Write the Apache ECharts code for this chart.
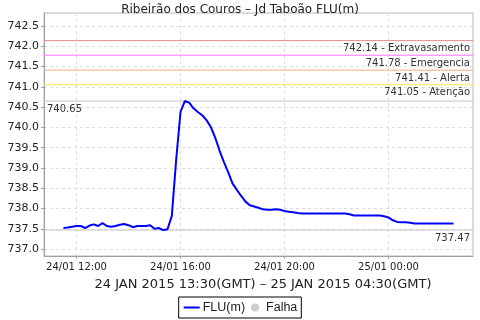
<!DOCTYPE html>
<html>
<head>
<meta charset="utf-8">
<script src="https://cdn.jsdelivr.net/npm/echarts@6/dist/echarts.min.js"></script>
<style>
  html, body { margin: 0; padding: 0; background: #fff; }
  #chart { width: 480px; height: 320px; }
</style>
</head>
<body>
<div id="chart"></div>
<script>
// readings every 10 min, local time (GMT-2)
const times = [
  '2015-01-24 11:30', '2015-01-24 11:40', '2015-01-24 11:50', '2015-01-24 12:00', '2015-01-24 12:10', '2015-01-24 12:20',
  '2015-01-24 12:30', '2015-01-24 12:40', '2015-01-24 12:50', '2015-01-24 13:00', '2015-01-24 13:10', '2015-01-24 13:20',
  '2015-01-24 13:30', '2015-01-24 13:40', '2015-01-24 13:50', '2015-01-24 14:00', '2015-01-24 14:10', '2015-01-24 14:20',
  '2015-01-24 14:30', '2015-01-24 14:40', '2015-01-24 14:50', '2015-01-24 15:00', '2015-01-24 15:10', '2015-01-24 15:20',
  '2015-01-24 15:30', '2015-01-24 15:40', '2015-01-24 15:50', '2015-01-24 16:00', '2015-01-24 16:10', '2015-01-24 16:20',
  '2015-01-24 16:30', '2015-01-24 16:40', '2015-01-24 16:50', '2015-01-24 17:00', '2015-01-24 17:10', '2015-01-24 17:20',
  '2015-01-24 17:30', '2015-01-24 17:40', '2015-01-24 17:50', '2015-01-24 18:00', '2015-01-24 18:10', '2015-01-24 18:20',
  '2015-01-24 18:30', '2015-01-24 18:40', '2015-01-24 18:50', '2015-01-24 19:00', '2015-01-24 19:10', '2015-01-24 19:20',
  '2015-01-24 19:30', '2015-01-24 19:40', '2015-01-24 19:50', '2015-01-24 20:00', '2015-01-24 20:10', '2015-01-24 20:20',
  '2015-01-24 20:30', '2015-01-24 20:40', '2015-01-24 20:50', '2015-01-24 21:00', '2015-01-24 21:10', '2015-01-24 21:20',
  '2015-01-24 21:30', '2015-01-24 21:40', '2015-01-24 21:50', '2015-01-24 22:00', '2015-01-24 22:10', '2015-01-24 22:20',
  '2015-01-24 22:30', '2015-01-24 22:40', '2015-01-24 22:50', '2015-01-24 23:00', '2015-01-24 23:10', '2015-01-24 23:20',
  '2015-01-24 23:30', '2015-01-24 23:40', '2015-01-24 23:50', '2015-01-25 00:00', '2015-01-25 00:10', '2015-01-25 00:20',
  '2015-01-25 00:30', '2015-01-25 00:40', '2015-01-25 00:50', '2015-01-25 01:00', '2015-01-25 01:10', '2015-01-25 01:20',
  '2015-01-25 01:30', '2015-01-25 01:40', '2015-01-25 01:50', '2015-01-25 02:00', '2015-01-25 02:10', '2015-01-25 02:20',
  '2015-01-25 02:30'
];
const flu = [
  737.52, 737.53, 737.55, 737.57, 737.57, 737.52,
  737.58, 737.61, 737.57, 737.64, 737.57, 737.55,
  737.57, 737.60, 737.62, 737.59, 737.54, 737.57,
  737.57, 737.57, 737.59, 737.50, 737.52, 737.47,
  737.49, 737.82, 739.20, 740.38, 740.65, 740.61,
  740.47, 740.38, 740.30, 740.18, 740.01, 739.75,
  739.43, 739.15, 738.90, 738.62, 738.46, 738.31,
  738.17, 738.08, 738.05, 738.02, 737.98, 737.97,
  737.97, 737.98, 737.97, 737.94, 737.92, 737.91,
  737.89, 737.88, 737.88, 737.88, 737.88, 737.88,
  737.88, 737.88, 737.88, 737.88, 737.88, 737.88,
  737.86, 737.83, 737.83, 737.83, 737.83, 737.83,
  737.83, 737.83, 737.81, 737.78, 737.71, 737.67,
  737.66, 737.66, 737.65, 737.63, 737.63, 737.63,
  737.63, 737.63, 737.63, 737.63, 737.63, 737.63,
  737.63
];
const yTicks = [737.0, 737.5, 738.0, 738.5, 739.0, 739.5, 740.0, 740.5, 741.0, 741.5, 742.0, 742.5];
const levels = [742.14, 741.78, 741.41, 741.05];
const levelNames = ['Extravasamento', 'Emergencia', 'Alerta', 'Atenção'];
const levelColors = ['#ec8a8a', '#ff70ff', '#f0b080', '#ffe050'];
const maxVal = 740.65;
const minVal = 737.47;
const xStart = '2015-01-24 10:45';
const xEnd = '2015-01-25 03:15';

const pad = (n) => (n < 10 ? '0' : '') + n;
const toMs = (s) => new Date(s.replace(' ', 'T') + ':00').getTime();

const chart = echarts.init(document.getElementById('chart'));

// reference levels: line drawn by a plain 2-point series, text by markLine label
const refs = levels.map((v, i) => ({
  value: v, color: levelColors[i], text: v.toFixed(2) + ' - ' + levelNames[i], pos: 'insideEndBottom'
}));
refs.push({ value: maxVal, color: '#c4c4c4', text: maxVal.toFixed(2), pos: 'insideStartBottom' });
refs.push({ value: minVal, color: '#c4c4c4', text: minVal.toFixed(2), pos: 'insideEndBottom' });

const refSeries = refs.map((r, i) => ({
  name: 'ref' + i,
  type: 'line',
  silent: true,
  symbol: 'none',
  z: 1,
  data: [[toMs(xStart), r.value], [toMs(xEnd), r.value]],
  lineStyle: { color: r.color, width: 1 },
  itemStyle: { color: r.color }
}));

const marks = refs.map((r) => ({
  yAxis: r.value,
  lineStyle: { color: 'rgba(0,0,0,0)', width: 1 },
  label: { formatter: r.text, position: r.pos, color: '#333', opacity: 1 }
}));

chart.setOption({
  animation: false,
  title: [
    {
      text: 'Ribeirão dos Couros – Jd Taboão FLU(m)',
      left: 'center', top: -1,
      textStyle: { fontFamily: 'DejaVu Sans', fontSize: 12, fontWeight: 'normal', color: '#222' }
    },
    {
      text: '24 JAN 2015 13:30(GMT) – 25 JAN 2015 04:30(GMT)',
      left: 258, top: 273, textAlign: 'center',
      textStyle: { fontFamily: 'DejaVu Sans', fontSize: 13, fontWeight: 'normal', color: '#222' }
    }
  ],
  grid: {
    left: 44, right: 7, top: 13, bottom: 64,
    show: true, borderColor: '#b8b8b8', borderWidth: 1
  },
  legend: {
    bottom: 2, left: 'center',
    borderColor: '#000', borderWidth: 1, padding: [4, 4], itemGap: 6,
    itemWidth: 16, itemHeight: 8,
    textStyle: { fontFamily: 'Liberation Sans', fontSize: 12.5, color: '#222', padding: [0, 0, 0, -2] },
    data: [
      { name: 'FLU(m)', itemStyle: { opacity: 0 } },
      { name: 'Falha', icon: 'circle', itemStyle: { color: '#c0c0c0' } }
    ]
  },
  xAxis: {
    type: 'time',
    min: toMs(xStart),
    max: toMs(xEnd),
    minInterval: 4 * 3600 * 1000,
    maxInterval: 4 * 3600 * 1000,
    axisLine: { lineStyle: { color: '#a0a0a0' } },
    axisTick: { show: true, length: 3, lineStyle: { color: '#a0a0a0' } },
    axisLabel: {
      fontFamily: 'DejaVu Sans', fontSize: 10, color: '#222', margin: 6,
      formatter: (v) => {
        const d = new Date(v);
        return pad(d.getDate()) + '/' + pad(d.getMonth() + 1) + ' ' + pad(d.getHours()) + ':' + pad(d.getMinutes());
      }
    },
    splitLine: { show: true, lineStyle: { color: '#dcdcdc', type: [3, 3] } }
  },
  yAxis: {
    type: 'value',
    min: 736.83, max: 742.82,
    axisLine: { show: true, lineStyle: { color: '#a0a0a0' } },
    axisTick: { show: true, length: 3, customValues: yTicks, lineStyle: { color: '#a0a0a0' } },
    axisLabel: {
      fontFamily: 'DejaVu Sans', fontSize: 11, color: '#222', margin: 5,
      customValues: yTicks,
      formatter: (v) => v.toFixed(1)
    },
    splitLine: { show: true, lineStyle: { color: '#dcdcdc', type: [3, 3] } }
  },
  series: [
    {
      name: 'FLU(m)',
      type: 'line',
      symbol: 'none',
      z: 3,
      data: times.map((t, i) => [toMs(t), flu[i]]),
      lineStyle: { color: '#0000ff', width: 2 },
      itemStyle: { color: '#0000ff' },
      markLine: {
        silent: true,
        symbol: 'none',
        label: { fontFamily: 'DejaVu Sans', fontSize: 10, color: '#333', distance: [3, 3] },
        data: marks
      }
    },
    {
      name: 'Falha',
      type: 'scatter',
      data: [],
      itemStyle: { color: '#c0c0c0' }
    }
  ].concat(refSeries)
});
</script>
</body>
</html>
